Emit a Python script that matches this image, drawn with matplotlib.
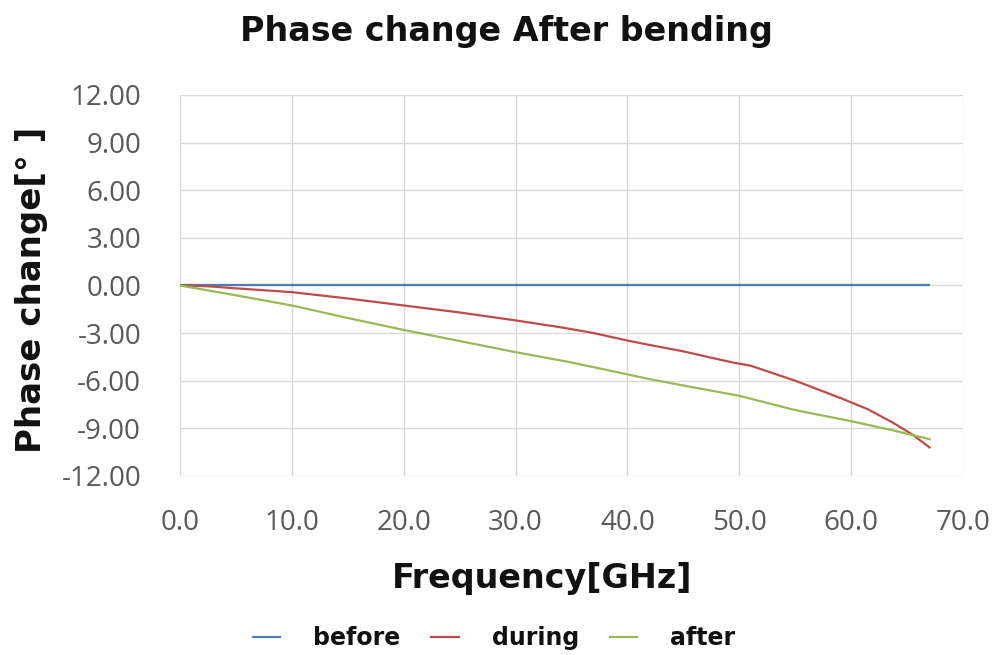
import matplotlib
matplotlib.use("Agg")
import matplotlib.pyplot as plt
import numpy as np

freq_before = [0.0, 67.0]
phase_before = [0.0, 0.0]

freq_during = [0.0, 2.5, 5.0, 7.5, 10.0, 15.0, 20.0, 25.0, 30.0, 34.0, 37.0, 40.0, 42.0, 45.0, 47.5, 49.4, 51.0, 55.0, 59.3, 61.5, 63.7, 65.5, 67.0]
phase_during = [0.0, -0.05, -0.18, -0.30, -0.42, -0.82, -1.26, -1.70, -2.20, -2.63, -3.00, -3.47, -3.75, -4.15, -4.55, -4.85, -5.05, -6.00, -7.16, -7.80, -8.63, -9.40, -10.20]

freq_after = [0.0, 5.0, 10.0, 15.0, 20.0, 25.0, 30.0, 35.0, 40.0, 42.0, 45.0, 50.0, 55.0, 60.0, 63.7, 67.0]
phase_after = [0.0, -0.62, -1.26, -2.05, -2.80, -3.50, -4.20, -4.85, -5.60, -5.90, -6.30, -6.95, -7.85, -8.55, -9.12, -9.68]

yticks = [12, 9, 6, 3, 0, -3, -6, -9, -12]
xticks = [0, 10, 20, 30, 40, 50, 60, 70]

fig = plt.figure(figsize=(9.92, 6.55), dpi=100)
ax = fig.add_axes([0.1815, 0.2733, 0.7893, 0.5817])

c_before = "#4a7ebb"
c_during = "#be4b48"
c_after = "#98b954"

ax.plot(freq_before, phase_before, color=c_before, lw=1.6, label="before")
ax.plot(freq_during, phase_during, color=c_during, lw=1.6, label="during")
ax.plot(freq_after, phase_after, color=c_after, lw=1.6, label="after")

ax.set_xlim(0, 70)
ax.set_ylim(-12, 12)
ax.set_xticks(xticks)
ax.set_yticks(yticks)
ax.set_xticklabels([f"{v:.1f}" for v in xticks])
ax.set_yticklabels([f"{v:.2f}" for v in yticks])
ax.tick_params(length=0, labelsize=20, labelcolor="#595959")
ax.tick_params(axis="y", pad=28)
ax.tick_params(axis="x", pad=24)
for lab in ax.get_xticklabels() + ax.get_yticklabels():
    lab.set_family("Open Sans")
ax.grid(True, color="#d9d9d9", lw=1.0)
ax.set_axisbelow(True)
for s in ax.spines.values():
    s.set_visible(False)

fig.text(0.511, 0.952, "Phase change After bending", ha="center", va="center",
         fontsize=24, fontweight="bold", color="#111111")
fig.text(0.547, 0.117, "Frequency[GHz]", ha="center", va="center",
         fontsize=24, fontweight="bold", color="#111111")
fig.text(0.032, 0.557, "Phase change[° ]", ha="center", va="center", rotation=90,
         fontsize=24.5, fontweight="bold", color="#111111")

leg = fig.legend(loc="center", bbox_to_anchor=(0.498, 0.026), ncol=3, frameon=False,
                 handlelength=1.15, columnspacing=1.3, handletextpad=1.4,
                 prop={"weight": "bold", "size": 17})
for t in leg.get_texts():
    t.set_color("#111111")

fig.savefig("out.png", dpi=100)
